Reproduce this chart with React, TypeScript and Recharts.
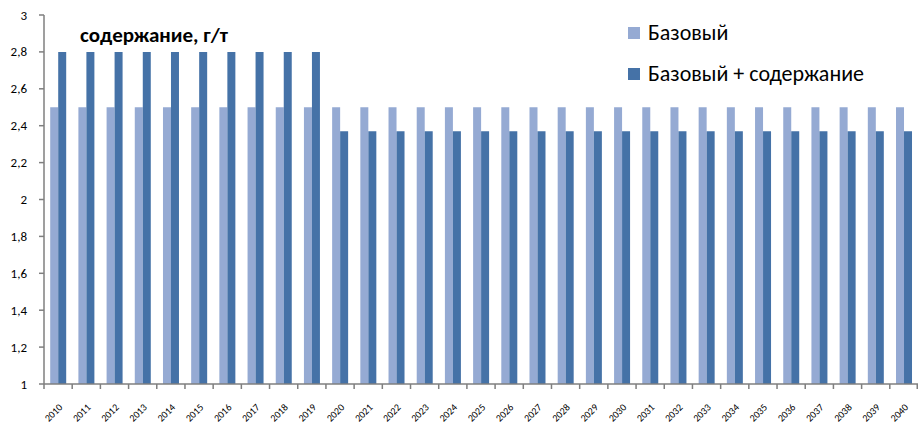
import { BarChart, Bar, XAxis, YAxis } from "recharts"

const years = Array.from({ length: 31 }, (_, i) => String(2010 + i))
const baseValues = [
  2.5, 2.5, 2.5, 2.5, 2.5, 2.5, 2.5, 2.5, 2.5, 2.5,
  2.5, 2.5, 2.5, 2.5, 2.5, 2.5, 2.5, 2.5, 2.5, 2.5,
  2.5, 2.5, 2.5, 2.5, 2.5, 2.5, 2.5, 2.5, 2.5, 2.5, 2.5,
]
const gradeValues = [
  2.8, 2.8, 2.8, 2.8, 2.8, 2.8, 2.8, 2.8, 2.8, 2.8,
  2.37, 2.37, 2.37, 2.37, 2.37, 2.37, 2.37, 2.37, 2.37, 2.37,
  2.37, 2.37, 2.37, 2.37, 2.37, 2.37, 2.37, 2.37, 2.37, 2.37, 2.37,
]
const yTicks = [1, 1.2, 1.4, 1.6, 1.8, 2, 2.2, 2.4, 2.6, 2.8, 3]
const seriesNames = ["Базовый", "Базовый + содержание"]

const chartData = years.map((year, i) => ({
  year,
  base: baseValues[i],
  grade: gradeValues[i],
}))

const W = 918
const H = 428
const Y_AXIS_W = 44
const X_AXIS_H = 44
const MARGIN_TOP = 15
const AXIS_Y = H - X_AXIS_H
const HALF_BAND = (W - Y_AXIS_W) / years.length / 2

const LIGHT = "#95aad3"
const DARK = "#4572a7"
const AXIS = "#7f7f7f"
const FONT = "Calibri, Carlito, 'Open Sans', sans-serif"

// year label rotated 45°, with tick marks between categories like Excel
const YearTick = (props: any) => {
  const { x, payload, index } = props
  const last = index === years.length - 1
  return (
    <g>
      <rect x={x - HALF_BAND - 0.75} y={AXIS_Y} width={1.5} height={5} fill={AXIS} />
      {last && <rect x={x + HALF_BAND - 1.5} y={AXIS_Y} width={1.5} height={5} fill={AXIS} />}
      <g transform={`translate(${x + 5},${AXIS_Y + 24})`}>
        <text transform="rotate(-45)" textAnchor="end" fontSize={10} fill="#000" fontFamily={FONT}>
          {payload.value}
        </text>
      </g>
    </g>
  )
}

const ValueTick = (props: any) => {
  const { y, payload } = props
  return (
    <text x={27} y={y} dy={4.5} textAnchor="end" fontSize={13} fill="#000" fontFamily={FONT}>
      {String(payload.value).replace(".", ",")}
    </text>
  )
}

export default function App() {
  return (
    <div style={{ position: "absolute", left: 0, top: 0, width: W, height: H, background: "#fff" }}>
      <BarChart
        width={W}
        height={H}
        data={chartData}
        margin={{ top: MARGIN_TOP, right: 0, left: 0, bottom: 0 }}
        barCategoryGap="22%"
        barGap={0}
      >
        <XAxis
          dataKey="year"
          interval={0}
          height={X_AXIS_H}
          tick={<YearTick />}
          axisLine={{ stroke: AXIS, strokeWidth: 1.5 }}
          tickLine={false}
        />
        <YAxis
          domain={[1, 3]}
          ticks={yTicks}
          width={Y_AXIS_W}
          allowDataOverflow
          tick={<ValueTick />}
          axisLine={{ stroke: AXIS, strokeWidth: 1.5 }}
          tickLine={{ stroke: AXIS, strokeWidth: 1.5 }}
          tickSize={5}
        />
        <Bar dataKey="base" name={seriesNames[0]} fill={LIGHT} isAnimationActive={false} />
        <Bar dataKey="grade" name={seriesNames[1]} fill={DARK} isAnimationActive={false} />
        <text x={80} y={42} fontSize={21} fontWeight="bold" fontFamily={FONT} fill="#000">
          содержание, г/т
        </text>
      </BarChart>
      {/* series legend, top right */}
      <div style={{ position: "absolute", left: 628, top: 12, fontFamily: FONT, fontSize: 22, color: "#000" }}>
        {seriesNames.map((label, i) => (
          <div key={label} style={{ display: "flex", alignItems: "center", height: 41, whiteSpace: "nowrap" }}>
            <span style={{ width: 12, height: 12, background: i === 0 ? LIGHT : DARK, marginRight: 8 }} />
            <span>{label}</span>
          </div>
        ))}
      </div>
    </div>
  )
}
